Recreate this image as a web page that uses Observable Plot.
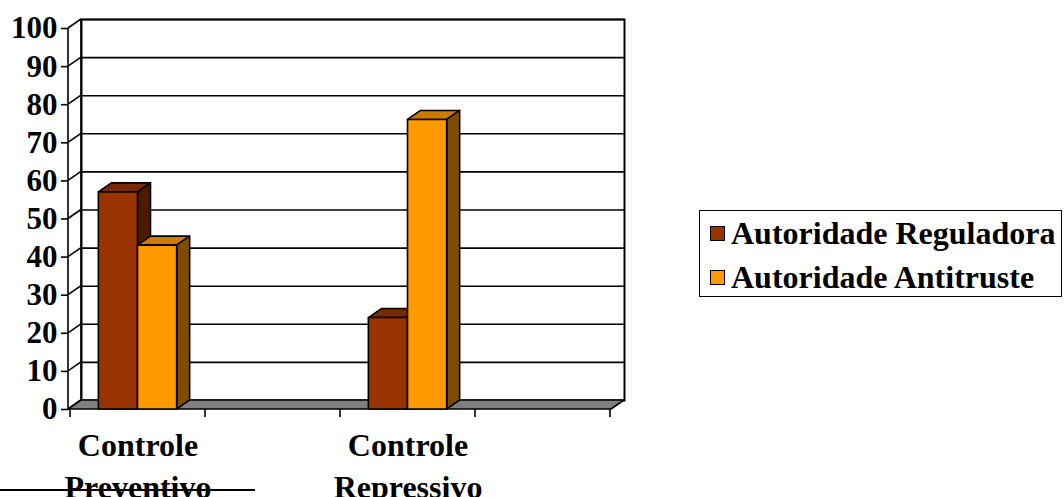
<!DOCTYPE html>
<html>
<head>
<meta charset="utf-8">
<script src="https://cdn.jsdelivr.net/npm/d3@7"></script>
<script src="https://cdn.jsdelivr.net/npm/@observablehq/plot@0.6"></script>
<style>
  html, body { margin: 0; padding: 0; background: #fff; }
  #wrap { position: relative; width: 1064px; height: 497px; overflow: hidden; font-family: "Liberation Serif", "Times New Roman", serif; font-weight: bold; }
  #legend { position: absolute; left: 699px; top: 210px; width: 363px; height: 87px; border: 1.5px solid #000; box-sizing: border-box; }
  .item { position: absolute; left: 10px; display: flex; align-items: center; font-size: 32px; line-height: 1; white-space: nowrap; }
  .sw { width: 15px; height: 15px; border: 1.5px solid #000; box-sizing: border-box; margin-right: 6px; }
  #docline { position: absolute; left: 0; top: 489px; width: 255px; height: 2px; background: #000; }
</style>
</head>
<body>
<div id="wrap"></div>
<script>
// ---- data ----
const categories = ["Controle\nPreventivo", " ", "Controle\nRepressivo", "  "];
const seriesNames = ["Autoridade Reguladora", "Autoridade Antitruste"];
const reguladora = [57, null, 24, null];
const antitruste = [43, null, 76, null];
const yTicks = [0, 10, 20, 30, 40, 50, 60, 70, 80, 90, 100];
const frontColors = ["#993300", "#FF9900"];
const topColors = ["#7a2900", "#cc7a00"];
const sideColors = ["#4d1a00", "#804d00"];

const rows = [];
categories.forEach((c, i) => {
  if (reguladora[i] != null) rows.push({cat: c, series: seriesNames[0], value: reguladora[i]});
  if (antitruste[i] != null) rows.push({cat: c, series: seriesNames[1], value: antitruste[i]});
});

const DX = 13, DY = -9;
const SW = 1.6;

function bw(x, dims) {
  return x.bandwidth ? x.bandwidth() : (dims.width - dims.marginLeft - dims.marginRight) / categories.length;
}
function poly(g, pts, fill) {
  g.append("polygon").attr("points", pts.map(p => p.join(",")).join(" "))
    .attr("fill", fill).attr("stroke", "#000").attr("stroke-width", SW).attr("stroke-linejoin", "round");
}
function line(g, x1, y1, x2, y2, w) {
  g.append("line").attr("x1", x1).attr("y1", y1).attr("x2", x2).attr("y2", y2)
    .attr("stroke", "#000").attr("stroke-width", w || SW);
}

// side wall diagonals, front axis line
const sideWall = (index, {x, y}, values, dims) => {
  const g = d3.create("svg:g");
  const x0 = dims.marginLeft;
  yTicks.forEach(t => line(g, x0, y(t), x0 + DX, y(t) + DY));
  line(g, x0 + DX, y(100) + DY, x0 + DX, y(0) + DY);
  line(g, x0, y(100), x0, y(0) + 1);
  return g.node();
};

// floor
const floor = (index, {x, y}, values, dims) => {
  const g = d3.create("svg:g");
  const x0 = dims.marginLeft, x1 = dims.width - dims.marginRight, y0 = y(0);
  poly(g, [[x0, y0], [x0 + DX, y0 + DY], [x1 + DX, y0 + DY], [x1, y0]], "#808080");
  const b = bw(x, dims);
  const edges = categories.map(c => x(c)).concat([x(categories[categories.length - 1]) + b]);
  edges.forEach(e => line(g, e, y0, e, y0 + 8));
  return g.node();
};

// 3D bars
const bars = (index, {x, y}, values, dims) => {
  const g = d3.create("svg:g");
  const b = bw(x, dims);
  rows.forEach(r => {
    const i = seriesNames.indexOf(r.series);
    const x0 = x(r.cat) + b * (0.21 + 0.29 * i), x1 = x0 + b * 0.29;
    const y0 = y(0), y1 = y(r.value);
    poly(g, [[x0, y1], [x0 + DX, y1 + DY], [x1 + DX, y1 + DY], [x1, y1]], topColors[i]);
    poly(g, [[x1, y1], [x1 + DX, y1 + DY], [x1 + DX, y0 + DY], [x1, y0]], sideColors[i]);
    poly(g, [[x0, y1], [x1, y1], [x1, y0], [x0, y0]], frontColors[i]);
  });
  return g.node();
};

const chart = Plot.plot({
  width: 1064,
  height: 497,
  marginLeft: 68,
  marginRight: 453,
  marginTop: 28,
  marginBottom: 88,
  style: {fontFamily: '"Liberation Serif", "Times New Roman", serif', fontWeight: "bold", color: "#000", background: "#fff", overflow: "visible"},
  x: {type: "band", domain: categories, padding: 0, axis: null},
  y: {domain: [0, 100], axis: null},
  marks: [
    Plot.frame({dx: DX, dy: DY, stroke: "#000", strokeWidth: 2, fill: "#fff"}),
    Plot.ruleY(yTicks.filter(t => t > 0), {dx: DX, dy: DY, stroke: "#000", strokeWidth: SW}),
    sideWall,
    floor,
    bars,
    Plot.axisY(yTicks, {tickSize: 7, tickPadding: 4, fontSize: 31, fontWeight: "bold", strokeWidth: SW, stroke: "#000"}),
    Plot.axisX({tickSize: 0, tickPadding: 17, fontSize: 32, fontWeight: "bold", lineHeight: 1.31, fill: "#000"})
  ]
});

const wrap = document.getElementById("wrap");
wrap.appendChild(chart);

const legend = document.createElement("div");
legend.id = "legend";
seriesNames.forEach((s, i) => {
  const it = document.createElement("div");
  it.className = "item";
  it.style.top = (i === 0 ? 6 : 50) + "px";
  const sw = document.createElement("span");
  sw.className = "sw";
  sw.style.background = frontColors[i];
  const tx = document.createElement("span");
  tx.textContent = s;
  it.appendChild(sw);
  it.appendChild(tx);
  legend.appendChild(it);
});
wrap.appendChild(legend);

const dl = document.createElement("div");
dl.id = "docline";
wrap.appendChild(dl);
</script>
</body>
</html>
